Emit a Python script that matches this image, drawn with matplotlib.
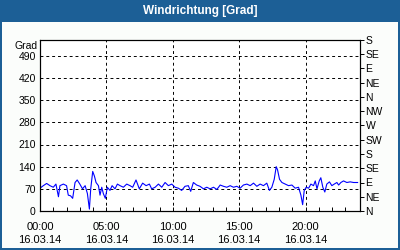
"""Windrichtung chart recreation."""

import matplotlib

matplotlib.use("Agg")

import matplotlib.pyplot as plt
from matplotlib.patches import Rectangle

# wind direction readings over one day (hours since midnight, degrees)
hours = [
    0.0, 0.25, 0.5, 0.75, 1.0, 1.2, 1.39, 1.5, 1.76, 2.0, 2.13, 2.3, 2.46, 2.64, 2.8,
    3.0, 3.2, 3.4, 3.57, 3.72, 3.82, 3.97, 4.1, 4.22, 4.4, 4.52, 4.65, 4.77, 4.92,
    5.07, 5.27, 5.43, 5.65, 5.83, 6.03, 6.28, 6.53, 6.78, 6.98, 7.23, 7.48, 7.73,
    7.99, 8.24, 8.41, 8.67, 8.92, 9.17, 9.42, 9.67, 9.92, 10.17, 10.42, 10.67, 10.92,
    11.17, 11.35, 11.55, 11.8, 12.05, 12.31, 12.56, 12.81, 13.07, 13.32, 13.57, 13.82,
    14.07, 14.32, 14.57, 14.82, 15.07, 15.32, 15.58, 15.83, 16.08, 16.33, 16.58,
    16.83, 17.08, 17.28, 17.46, 17.64, 17.79, 17.89, 18.04, 18.22, 18.47, 18.72,
    18.97, 19.22, 19.47, 19.65, 19.78, 19.9, 20.05, 20.23, 20.4, 20.6, 20.73, 20.86,
    21.03, 21.15, 21.3, 21.45, 21.6, 21.8, 21.98, 22.16, 22.36, 22.49, 22.66, 22.86,
    23.11, 23.36, 23.62, 23.92,
]
direction = [
    72, 80, 87, 80, 75, 85, 45, 80, 85, 80, 50, 48, 40, 90, 98,
    85, 70, 80, 55, 6, 70, 125, 110, 90, 80, 50, 75, 55, 40,
    75, 65, 80, 70, 85, 80, 75, 85, 80, 75, 98, 70, 88,
    80, 85, 70, 75, 85, 75, 90, 80, 85, 75, 72, 65, 78,
    80, 62, 90, 82, 78, 70, 75, 70, 75, 68, 82, 78,
    75, 80, 75, 78, 72, 82, 85, 80, 88, 78, 85,
    80, 88, 65, 75, 100, 140, 130, 100, 90, 85, 80,
    82, 72, 75, 50, 20, 65, 75, 72, 85, 80, 95, 70,
    95, 105, 75, 60, 85, 92, 80, 85, 90, 82, 90, 95,
    90, 92, 90, 90,
]

x_major = [0, 5, 10, 15, 20]
x_labels = ["00:00\n16.03.14", "05:00\n16.03.14", "10:00\n16.03.14",
            "15:00\n16.03.14", "20:00\n16.03.14"]
y_left = [0, 70, 140, 210, 280, 350, 420, 490]
y_right = [0, 45, 90, 135, 180, 225, 270, 315, 360, 405, 450, 495, 540]
compass = ["N", "NE", "E", "SE", "S", "SW", "W", "NW", "N", "NE", "E", "SE", "S"]

BLUE = "#1c5f96"
FONT = "Liberation Sans"

fig = plt.figure(figsize=(4, 2.5), dpi=100, facecolor="#fbfdfb")

# frame: title bar plus thin border
fig.patches.append(Rectangle((0, 1 - 22 / 250), 1, 22 / 250, transform=fig.transFigure,
                             facecolor=BLUE, edgecolor="none", zorder=0))
for rect in [(0, 0, 2 / 400, 1), (1 - 2 / 400, 0, 2 / 400, 1), (0, 0, 1, 2 / 250)]:
    fig.patches.append(Rectangle(rect[:2], rect[2], rect[3], transform=fig.transFigure,
                                 facecolor=BLUE, edgecolor="none", zorder=0))
fig.text(0.5, 1 - 11 / 250, "Windrichtung [Grad]", color="white", fontsize=8.5,
         fontweight="bold", ha="center", va="center", family=FONT)

ax = fig.add_axes([40 / 400, 39 / 250, 320 / 400, 171 / 250])
ax.set_facecolor("white")
ax.plot(hours, direction, color="#0000ff", lw=0.8)
ax.set_xlim(0, 24.1)
ax.set_ylim(0, 540)

ax.set_xticks(x_major)
ax.set_xticklabels(x_labels, family=FONT, fontsize=8, linespacing=1.3)
ax.set_xticks(range(1, 24), minor=True)
ax.tick_params(axis="x", which="both", direction="in", length=3, width=0.7, pad=8)
ax.set_yticks(y_left)
ax.set_yticklabels([str(v) for v in y_left], family=FONT, fontsize=7.5)
ax.tick_params(axis="y", length=0, pad=3)
ax.grid(True, color="black", lw=0.7, linestyle=(0, (3, 3)))
for spine in ax.spines.values():
    spine.set_linewidth(0.8)

ax2 = ax.twinx()
ax2.set_ylim(0, 540)
ax2.set_yticks(y_right)
ax2.set_yticklabels(compass, family=FONT, fontsize=7.5)
ax2.tick_params(axis="y", direction="out", length=3, width=0.7, pad=1)

fig.text(38 / 400, 1 - 46 / 250, "Grad", family=FONT, fontsize=7.5, ha="right", va="center")

fig.savefig("out.png", dpi=100, facecolor=fig.get_facecolor())
